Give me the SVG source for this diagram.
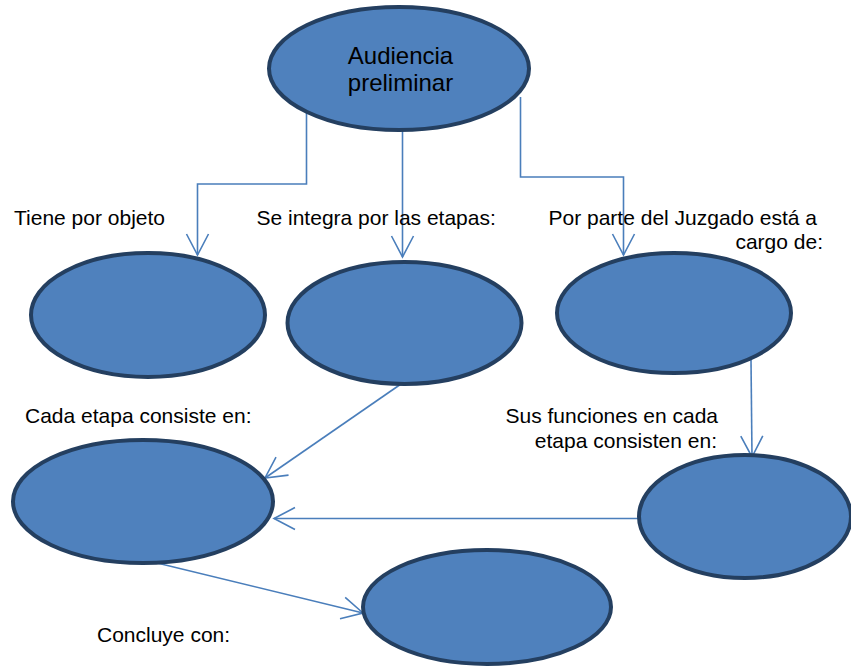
<svg xmlns="http://www.w3.org/2000/svg" width="851" height="667" viewBox="0 0 851 667">
<defs>
<style>
.node{fill:#4F81BD;stroke:#243F60;stroke-width:4}
.conn{fill:none;stroke:#4A7EBB;stroke-width:1.6}
.lbl{font-family:"Liberation Sans",Arial,sans-serif;font-size:21px;fill:#000}
.title{font-family:"Liberation Sans",Arial,sans-serif;font-size:24px;fill:#000;text-anchor:middle}
</style>
<marker id="arr" markerUnits="userSpaceOnUse" markerWidth="26" markerHeight="26" viewBox="-23 -13 26 26" refX="0" refY="0" orient="auto">
<path d="M-21,-11 L0,0 L-21,11" fill="none" stroke="#4A7EBB" stroke-width="1.6"/>
</marker>
</defs>
<rect width="851" height="667" fill="#fff"/>
<g id="connectors">
<polyline class="conn" points="306.5,113 306.5,184 197.5,184 197.5,255" marker-end="url(#arr)"/>
<polyline class="conn" points="402.5,129 402.5,257" marker-end="url(#arr)"/>
<polyline class="conn" points="520.5,97 520.5,177 623.5,177 623.5,255" marker-end="url(#arr)"/>
<line class="conn" x1="401" y1="384" x2="265" y2="478" marker-end="url(#arr)"/>
<line class="conn" x1="751" y1="360" x2="752" y2="457" marker-end="url(#arr)"/>
<line class="conn" x1="640" y1="518.5" x2="274" y2="518.5" marker-end="url(#arr)"/>
<line class="conn" x1="153" y1="562" x2="363" y2="613" marker-end="url(#arr)"/>
</g>
<g id="n-audiencia">
<ellipse class="node" cx="399" cy="68.5" rx="130" ry="61.5"/>
<text class="title" x="400.5" y="64">Audiencia</text>
<text class="title" x="400.5" y="91">preliminar</text>
</g>
<g id="n-objeto">
<ellipse class="node" cx="148" cy="315" rx="117" ry="62"/>
</g>
<g id="n-etapas">
<ellipse class="node" cx="404.5" cy="323" rx="117" ry="61"/>
</g>
<g id="n-juzgado">
<ellipse class="node" cx="674" cy="313" rx="117" ry="60"/>
</g>
<g id="n-cada-etapa">
<ellipse class="node" cx="143" cy="501.5" rx="130" ry="61.5"/>
</g>
<g id="n-funciones">
<ellipse class="node" cx="745" cy="516.5" rx="106" ry="61.5"/>
</g>
<g id="n-concluye">
<ellipse class="node" cx="487" cy="607" rx="124" ry="57"/>
</g>
<g id="labels">
<text class="lbl" x="14" y="225">Tiene por objeto</text>
<text class="lbl" x="256.5" y="225">Se integra por las etapas:</text>
<text class="lbl" x="817" y="225" text-anchor="end">Por parte del Juzgado está a</text>
<text class="lbl" x="823" y="249" text-anchor="end">cargo de:</text>
<text class="lbl" x="25" y="423">Cada etapa consiste en:</text>
<text class="lbl" x="718" y="423" text-anchor="end">Sus funciones en cada</text>
<text class="lbl" x="717" y="448" text-anchor="end">etapa consisten en:</text>
<text class="lbl" x="97" y="642">Concluye con:</text>
</g>
</svg>
